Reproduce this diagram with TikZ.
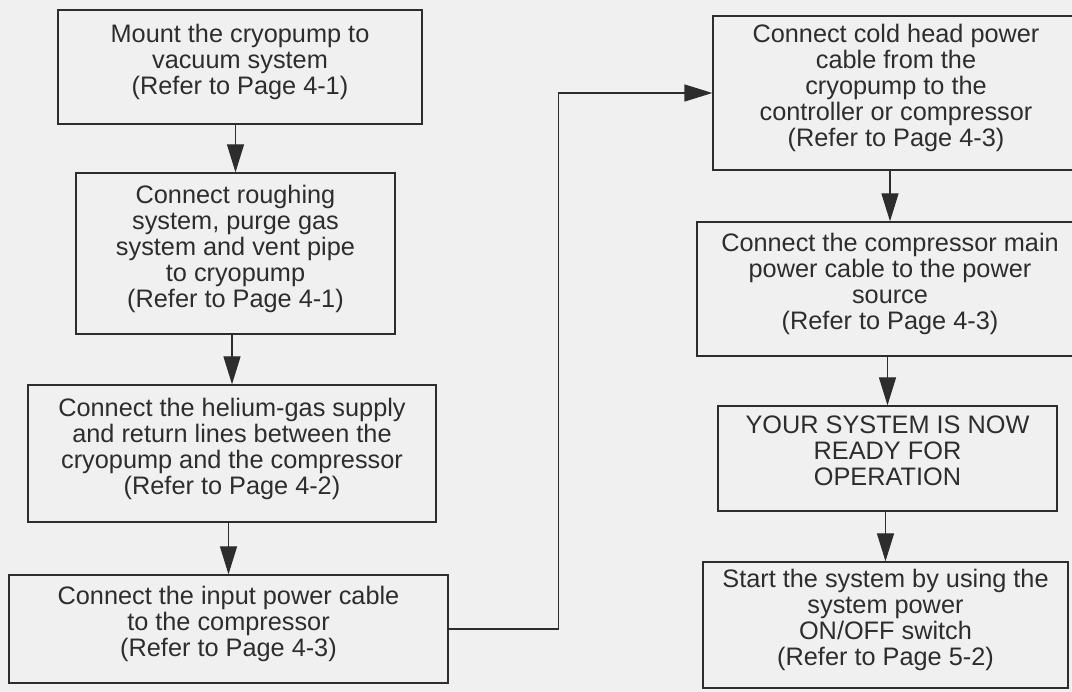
\documentclass[tikz,border=0pt]{standalone}
\usepackage{fontspec}
\setmainfont{Liberation Sans}
\usetikzlibrary{arrows.meta}
\definecolor{paper}{RGB}{240,240,240}
\definecolor{ink}{RGB}{45,45,45}
\tikzset{>={Triangle[length=28pt,width=17pt]}}
\tikzset{stepbox/.style = {shape=rectangle,draw=ink,line width=1.3pt,text=ink,align=center,inner sep=0pt,text depth=15pt,font=\fontsize{25.3}{26}\selectfont}}
\tikzset{flow/.style = {->,draw=ink,line width=1.3pt}}

\begin{document}
\begin{tikzpicture}[x=1pt,y=-1pt]
                \useasboundingbox[fill=paper] (0,0) rectangle (1072,692);
                % left column
                \node[stepbox,minimum width=364pt,minimum height=114pt] (m1) at (240,67) {Mount the cryopump to\\vacuum system\\(Refer to Page 4-1)};
                \node[stepbox,minimum width=319pt,minimum height=161pt] (m2) at (235.5,253.5) {Connect roughing\\system, purge gas\\system and vent pipe\\to cryopump\\(Refer to Page 4-1)};
                \node[stepbox,minimum width=408pt,minimum height=137pt] (m3) at (232,453.5) {Connect the helium-gas supply\\and return lines between the\\cryopump and the compressor\\(Refer to Page 4-2)};
                \node[stepbox,minimum width=439pt,minimum height=108pt] (m4) at (228.5,629) {Connect the input power cable\\to the compressor\\(Refer to Page 4-3)};
                % right column
                \node[stepbox,minimum width=366pt,minimum height=154pt] (m5) at (896,93) {Connect cold head power\\cable from the\\cryopump to the\\controller or compressor\\(Refer to Page 4-3)};
                \node[stepbox,minimum width=386pt,minimum height=134pt] (m6) at (890,289) {Connect the compressor main\\power cable to the power\\source\\(Refer to Page 4-3)};
                \node[stepbox,minimum width=339pt,minimum height=105pt] (m7) at (887.5,458.5) {YOUR SYSTEM IS NOW\\READY FOR\\OPERATION};
                \node[stepbox,minimum width=365pt,minimum height=126pt] (m8) at (885.5,625) {Start the system by using the\\system power\\ON/OFF switch\\(Refer to Page 5-2)};
                \draw[flow] (m1.south -| m2.north) -- (m2.north);
                \draw[flow] (m2.south -| m3.north) -- (m3.north);
                \draw[flow] (m3.south -| m4.north) -- (m4.north);
                \draw[flow] (m4.east) -- ++(110,0) |- (m5.west);
                \draw[flow] (m5.south -| m6.north) -- (m6.north);
                \draw[flow] (m6.south -| m7.north) -- (m7.north);
                \draw[flow] (m7.south -| m8.north) -- (m8.north);
            \end{tikzpicture}
\end{document}
